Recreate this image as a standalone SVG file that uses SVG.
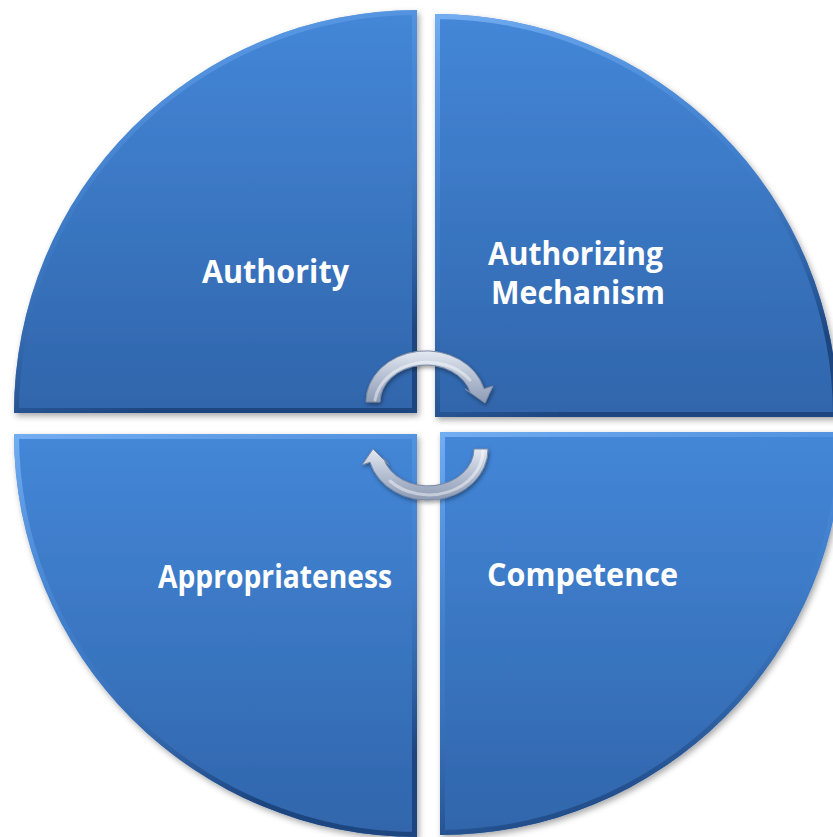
<svg xmlns="http://www.w3.org/2000/svg" width="833" height="837" viewBox="0 0 833 837">
  <defs>
    <linearGradient id="qfill" x1="0" y1="0" x2="0" y2="1">
      <stop offset="0" stop-color="#4487d8"/>
      <stop offset="1" stop-color="#3065ab"/>
    </linearGradient>
    <linearGradient id="bevel" x1="0" y1="0" x2="0.3" y2="1">
      <stop offset="0" stop-color="#74aef2"/>
      <stop offset="0.5" stop-color="#4a8ad8" stop-opacity="0.3"/>
      <stop offset="1" stop-color="#1d4680"/>
    </linearGradient>
    <linearGradient id="arrowFill" x1="0" y1="0" x2="0" y2="1">
      <stop offset="0" stop-color="#e4e9f2"/>
      <stop offset="0.5" stop-color="#b4bfd2"/>
      <stop offset="1" stop-color="#8e9bb4"/>
    </linearGradient>
    <filter id="shadow" x="-10%" y="-10%" width="120%" height="120%">
      <feDropShadow dx="2" dy="3" stdDeviation="3" flood-color="#000" flood-opacity="0.35"/>
    </filter>
    <filter id="ashadow" x="-20%" y="-20%" width="140%" height="140%">
      <feDropShadow dx="1" dy="2" stdDeviation="2" flood-color="#000" flood-opacity="0.4"/>
    </filter>
    <path id="pTL" d="M417,413 L14,413 A403,403 0 0 1 417,10 Z"/>
    <path id="pTR" d="M435,417 L435,14 A403,403 0 0 1 838,417 Z"/>
    <path id="pBL" d="M417,434 L417,837 A403,403 0 0 1 14,434 Z"/>
    <path id="pBR" d="M440,432 L843,432 A403,403 0 0 1 440,835 Z"/>
    <clipPath id="cTL"><use href="#pTL"/></clipPath>
    <clipPath id="cTR"><use href="#pTR"/></clipPath>
    <clipPath id="cBL"><use href="#pBL"/></clipPath>
    <clipPath id="cBR"><use href="#pBR"/></clipPath>
  </defs>
  <style>
    .q { fill: url(#qfill); filter: url(#shadow); }
    .bv { fill: none; stroke: url(#bevel); stroke-width: 10; }
    .lbl { font-family: "Open Sans", "Liberation Sans", sans-serif; font-weight: 700; font-size: 32px; fill: #ffffff; text-anchor: middle; }
    .arrow { fill: url(#arrowFill); stroke: #7a88a3; stroke-width: 1; filter: url(#ashadow); }
    .hl { fill: none; stroke: #ffffff; stroke-opacity: 0.45; stroke-width: 3; stroke-linecap: round; }
  </style>

  <g id="node-authority">
    <use href="#pTL" class="q"/>
    <use href="#pTL" class="bv" clip-path="url(#cTL)"/>
    <text class="lbl" x="275.5" y="283" textLength="147" lengthAdjust="spacingAndGlyphs">Authority</text>
  </g>
  <g id="node-authorizing-mechanism">
    <use href="#pTR" class="q"/>
    <use href="#pTR" class="bv" clip-path="url(#cTR)"/>
    <text class="lbl" x="575.5" y="265" textLength="175" lengthAdjust="spacingAndGlyphs">Authorizing</text>
    <text class="lbl" x="578" y="304" textLength="174" lengthAdjust="spacingAndGlyphs">Mechanism</text>
  </g>
  <g id="node-appropriateness">
    <use href="#pBL" class="q"/>
    <use href="#pBL" class="bv" clip-path="url(#cBL)"/>
    <text class="lbl" x="275" y="588" textLength="234" lengthAdjust="spacingAndGlyphs">Appropriateness</text>
  </g>
  <g id="node-competence">
    <use href="#pBR" class="q"/>
    <use href="#pBR" class="bv" clip-path="url(#cBR)"/>
    <text class="lbl" x="582.5" y="586" textLength="191" lengthAdjust="spacingAndGlyphs">Competence</text>
  </g>

  <g id="connectors">
    <path class="arrow" d="M366,402 A60,51 0 0 1 484,388.8 L493,386 L485,403 L465,389 L470.4,392.4 A46,37 0 0 0 380,402 Z"/>
    <path class="hl" d="M375,400 A53,44 0 0 1 470,380"/>
    <path class="arrow" d="M488,449 A60,51 0 0 1 370,462.2 L362,465 L373,449 L389,465 L383.6,458.6 A46,37 0 0 0 474,449 Z"/>
    <path class="hl" d="M483,451 A54,45 0 0 1 390,481"/>
  </g>
</svg>
